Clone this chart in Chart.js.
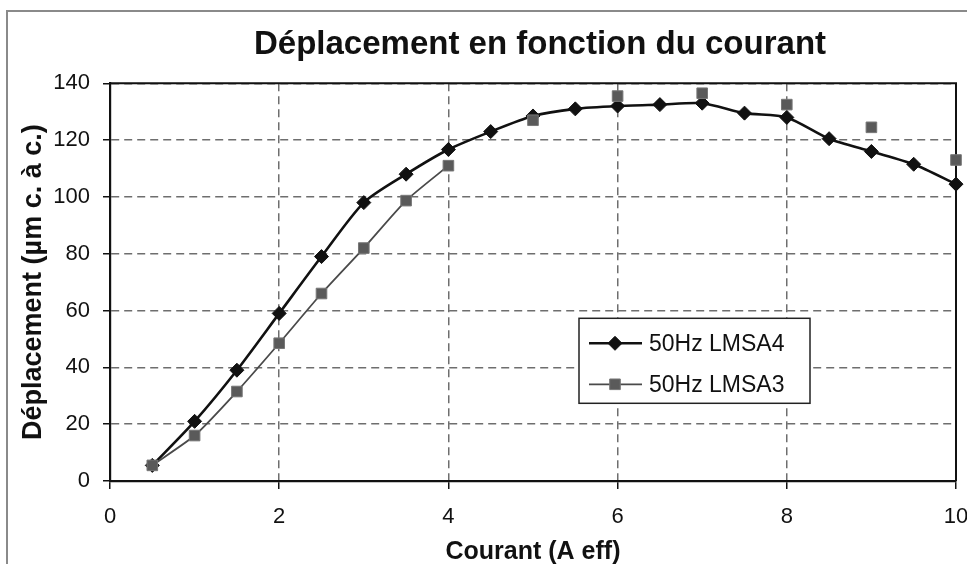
<!DOCTYPE html>
<html lang="fr">
<head>
<meta charset="utf-8">
<title>Déplacement en fonction du courant</title>
<script src="https://cdn.jsdelivr.net/npm/chart.js@4.4.0/dist/chart.umd.min.js"></script>
<style>
  html, body { margin:0; padding:0; background:#fff; overflow:hidden; width:967px; height:564px; }
  #frame { position:absolute; left:6px; top:10px; width:1064px; height:556px; border:2px solid #8a8a8a; background:#fff; }
  #frame canvas { display:block; }
</style>
</head>
<body>
<div id="frame"><canvas id="chart-main"></canvas></div>
<script>
// ===== Déplacement vs courant (50 Hz) =====
const courant = [0.5, 1, 1.5, 2, 2.5, 3, 3.5, 4, 4.5, 5, 5.5, 6, 6.5, 7, 7.5, 8, 8.5, 9, 9.5, 10];
const lmsa4 = [5.5, 21, 39, 59, 79, 98, 108, 116.7, 123, 128.5, 131, 132, 132.5, 133, 129.5, 128, 120.5, 116, 111.5, 104.5];
// LMSA3 only measured at whole amps above 4 A -> gaps break the line
const lmsa3 = [5.5, 16, 31.5, 48.5, 66, 82, 98.7, 111, null, 127, null, 135.5, null, 136.5, null, 132.5, null, 124.5, null, 113];
const xTicks = [0, 2, 4, 6, 8, 10];
const yTicks = [0, 20, 40, 60, 80, 100, 120, 140];
const seriesNames = ['50Hz LMSA4', '50Hz LMSA3'];

const FONT = '"Liberation Sans", Arial, Helvetica, sans-serif';
const ink = '#111';

const toPoints = ys => courant.map((x, i) => ({ x, y: ys[i] }));

// top + right edge of the plot box
const plotFrame = {
  id: 'plotFrame',
  beforeDatasetsDraw(chart) {
    const { ctx, chartArea: a } = chart;
    ctx.save();
    ctx.strokeStyle = ink; ctx.lineWidth = 2;
    ctx.beginPath();
    ctx.moveTo(a.left, a.top); ctx.lineTo(a.right, a.top); ctx.lineTo(a.right, a.bottom);
    ctx.stroke();
    ctx.restore();
  }
};

// boxed legend sitting inside the plot
const boxLegend = {
  id: 'boxLegend',
  afterDraw(chart) {
    const { ctx, chartArea: a } = chart;
    const x = a.left + 469, y = a.top + 235, w = 231, h = 85;
    ctx.save();
    ctx.fillStyle = '#fff'; ctx.fillRect(x, y, w, h);
    ctx.strokeStyle = '#222'; ctx.lineWidth = 1.5; ctx.strokeRect(x, y, w, h);
    chart.data.datasets.forEach((ds, i) => {
      const cy = y + 25 + i * 41;
      ctx.strokeStyle = ds.borderColor; ctx.lineWidth = ds.borderWidth;
      ctx.beginPath(); ctx.moveTo(x + 10, cy); ctx.lineTo(x + 63, cy); ctx.stroke();
      ctx.fillStyle = ds.pointBackgroundColor; ctx.strokeStyle = ds.pointBorderColor;
      ctx.lineWidth = ds.pointBorderWidth;
      Chart.helpers.drawPoint(ctx, { pointStyle: ds.pointStyle, radius: ds.pointRadius, borderWidth: ds.pointBorderWidth, rotation: 0 }, x + 36, cy);
      ctx.fillStyle = ink; ctx.font = '23px ' + FONT; ctx.textBaseline = 'middle';
      ctx.fillText(ds.label, x + 70, cy + 1);
    });
    ctx.restore();
  }
};

const tickFont = { family: FONT, size: 22 };

new Chart(document.getElementById('chart-main'), {
  type: 'line',
  data: {
    datasets: [
      { label: seriesNames[0], data: toPoints(lmsa4), order: 2,
        borderColor: '#111', borderWidth: 2.6, tension: 0.25,
        pointStyle: 'rectRot', pointRadius: 7, pointBackgroundColor: '#111', pointBorderColor: '#111', pointBorderWidth: 1,
        clip: false },
      { label: seriesNames[1], data: toPoints(lmsa3), order: 1, spanGaps: false,
        borderColor: '#4a4a4a', borderWidth: 1.8, tension: 0.2,
        pointStyle: 'rect', pointRadius: 7.5, pointBackgroundColor: '#5a5a5a', pointBorderColor: '#777', pointBorderWidth: 1,
        clip: false }
    ]
  },
  options: {
    responsive: true, maintainAspectRatio: false, animation: false,
    layout: { padding: 0 },
    plugins: {
      legend: { display: false },
      tooltip: { enabled: false },
      title: { display: true, text: 'Déplacement en fonction du courant', color: ink,
        font: { family: FONT, size: 33, weight: 'bold' }, padding: { top: 12.7, bottom: 19 } }
    },
    scales: {
      x: { type: 'linear', min: 0, max: 10,
        afterBuildTicks: s => { s.ticks = xTicks.map(v => ({ value: v })); },
        afterFit: s => { s.height = 87; },
        ticks: { color: ink, font: tickFont, padding: 15, maxRotation: 0 },
        grid: { color: '#6e6e6e', lineWidth: 1.5, tickLength: 8, tickColor: ink, tickWidth: 1.5 },
        border: { display: true, color: ink, width: 2.2, dash: [8, 5] },
        title: { display: true, text: 'Courant (A eff)', color: ink,
          font: { family: FONT, size: 25, weight: 'bold' }, padding: { top: 0, bottom: 1 } } },
      y: { type: 'linear', min: 0, max: 140,
        afterBuildTicks: s => { s.ticks = yTicks.map(v => ({ value: v })); },
        afterFit: s => { s.width = 102; },
        ticks: { color: ink, font: tickFont, padding: 13 },
        grid: { color: '#6e6e6e', lineWidth: 1.5, tickLength: 7, tickColor: ink, tickWidth: 1.5 },
        border: { display: true, color: ink, width: 2.2, dash: [8, 5] },
        title: { display: true, text: 'Déplacement (µm c. à c.)', color: ink,
          font: { family: FONT, size: 27, weight: 'bold' }, padding: { top: 9, bottom: 0 } } },
      // empty right-hand axis: reserves the margin to the right of the plot
      yR: { type: 'linear', position: 'right', display: true,
        afterFit: s => { s.width = 116; },
        ticks: { display: false }, grid: { display: false }, border: { display: false } }
    }
  },
  plugins: [plotFrame, boxLegend]
});
</script>
</body>
</html>
